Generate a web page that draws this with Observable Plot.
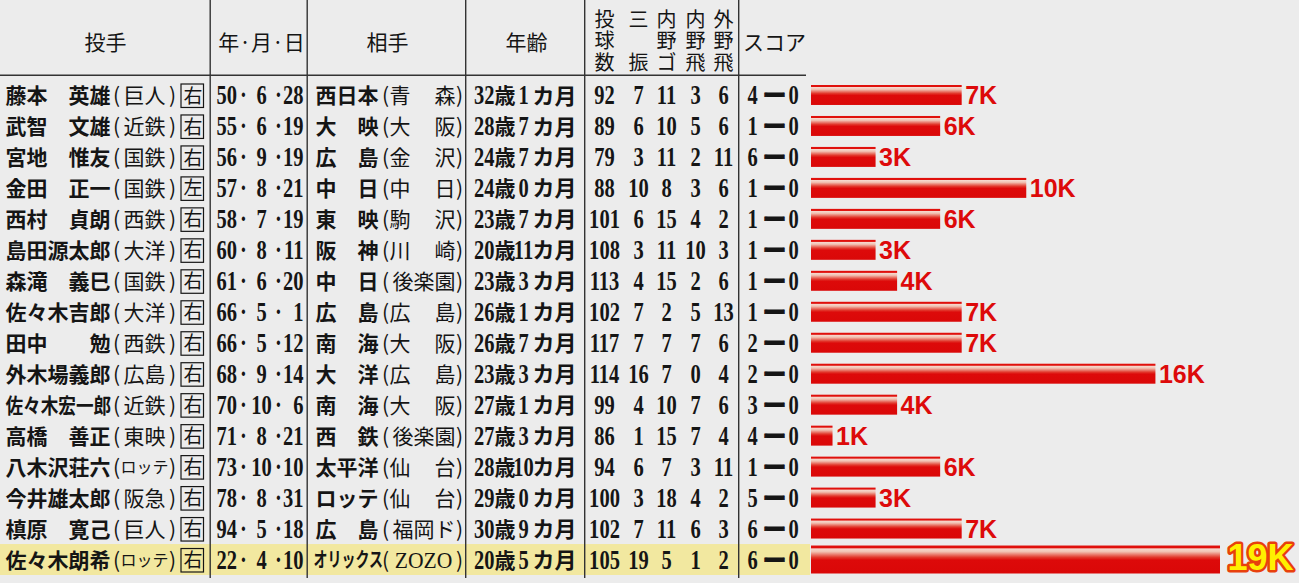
<!DOCTYPE html>
<html><head><meta charset="utf-8">
<script src="https://cdn.jsdelivr.net/npm/d3@7"></script>
<script src="https://cdn.jsdelivr.net/npm/@observablehq/plot@0.6"></script>
<style>
html,body{margin:0;padding:0;background:#ececec;overflow:hidden;}
</style></head><body><div id="chart"></div>
<script>
// ---- data ----
const families = ["藤本","武智","宮地","金田","西村","島田源太郎","森滝","佐々木吉郎","田中","外木場義郎","佐々木宏一郎","高橋","八木沢荘六","今井雄太郎","槙原","佐々木朗希"];
const givens = ["英雄","文雄","惟友","正一","貞朗","","義巳","","勉","","","善正","","","寛己",""];
const teams = ["巨人","近鉄","国鉄","国鉄","西鉄","大洋","国鉄","大洋","西鉄","広島","近鉄","東映","ロッテ","阪急","巨人","ロッテ"];
const hands = ["右","右","右","左","右","右","右","右","右","右","右","右","右","右","右","右"];
const years = ["50","55","56","57","58","60","61","66","66","68","70","71","73","78","94","22"];
const months = [6,6,9,8,7,8,6,5,5,9,10,8,10,8,5,4];
const days = [28,19,19,21,19,11,20,1,12,14,6,21,10,31,18,10];
const opponents = ["西日本","大映","広島","中日","東映","阪神","中日","広島","南海","大洋","南海","西鉄","太平洋","ロッテ","広島","オリックス"];
const venues = ["青森","大阪","金沢","中日","駒沢","川崎","後楽園","広島","大阪","広島","大阪","後楽園","仙台","仙台","福岡ド","ZOZO"];
const ageYears = [32,28,24,24,23,20,23,26,26,23,27,27,28,29,30,20];
const ageMonths = [1,7,7,0,7,11,3,1,7,3,1,3,10,0,9,5];
const pitches = [92,89,79,88,101,108,113,102,117,114,99,86,94,100,102,105];
const strikeouts = [7,6,3,10,6,3,4,7,7,16,4,1,6,3,7,19];
const groundOuts = [11,10,11,8,15,11,15,2,7,7,10,15,7,18,11,5];
const infieldFlies = [3,5,2,3,4,10,2,5,7,0,7,7,3,4,6,1];
const outfieldFlies = [6,6,11,6,2,3,6,13,6,4,6,4,11,2,3,2];
const runsFor = [4,1,6,1,1,1,1,1,2,2,3,4,1,5,6,6];
const runsAgainst = [0,0,0,0,0,0,0,0,0,0,0,0,0,0,0,0];
const headerLabels = ["投手","年·月·日","相手","年齢","スコア"];
const statHeaders = ["投球数","三振","内野ゴ","内野飛","外野飛"];
const highlightRow = 15;

const rows = families.map((f, i) => ({
  i, fam: f, giv: givens[i], team: teams[i], hand: hands[i],
  yy: years[i], mm: months[i], dd: days[i],
  opp: opponents[i], venue: venues[i],
  ay: ageYears[i], am: ageMonths[i],
  stats: [pitches[i], strikeouts[i], groundOuts[i], infieldFlies[i], outfieldFlies[i]],
  rf: runsFor[i], ra: runsAgainst[i], k: strikeouts[i]
}));

// ---- layout / style ----
const W = 1299, H = 583;
const BG = "#ececec", INK = "#151515", LINE = "#333", RED = "#dd0a0a";
const CJK = "'Noto Sans CJK JP', sans-serif";
const NUM = "'Liberation Serif', 'Noto Sans CJK JP', serif";
const SEPS = [209.5, 306.5, 465, 584, 738];
const HEAD_X = [105, 261, 387, 526, 774];
const STAT_X = [604, 638, 666, 695, 723];

const cjk = (text, dx, o = {}) => Plot.text(rows, {y: "i", text, frameAnchor: "left", dx, dy: 1, textAnchor: "start",
  lineAnchor: "middle", fill: INK, fontFamily: CJK, fontWeight: "bold", fontSize: 21, ...o});
const num = (text, dx, o = {}) => Plot.text(rows, {y: "i", text, frameAnchor: "left", dx, dy: 0, textAnchor: "middle",
  lineAnchor: "middle", fill: INK, fontFamily: NUM, fontWeight: "bold", fontSize: 27, className: "sx76", ...o});

const normal = rows.filter(d => d.i !== highlightRow);
const hi = rows.filter(d => d.i === highlightRow);

const marks = [
  // highlight row
  Plot.cell([highlightRow], {x: null, y: d => d, insetRight: W - 810, fill: "#f2e8a0"}),
  // column separators & header rule
  ...SEPS.map(sx => Plot.cell([0], {x: null, y: null, insetLeft: sx, insetRight: W - sx - 1.4, insetBottom: 5, fill: LINE})),
  Plot.cell([0], {x: null, y: null, insetTop: 74.5, insetBottom: H - 76, insetRight: W - 806, fill: LINE}),
  // header labels
  ...headerLabels.map((h, j) => Plot.text([h], {text: d => d, frameAnchor: "top-left", dx: HEAD_X[j], dy: 43,
    textAnchor: "middle", lineAnchor: "middle",
    fill: INK, fontFamily: CJK, fontWeight: 400, fontSize: 21})),
  ...statHeaders.map((h, j) => Plot.text([h], {
    text: d => d.length === 2 ? d[0] + "\n\u3000\n" + d[1] : d.split("").join("\n"),
    frameAnchor: "top-left", dx: STAT_X[j], dy: 41, lineHeight: 1.08,
    textAnchor: "middle", lineAnchor: "middle",
    fill: INK, fontFamily: CJK, fontWeight: 400, fontSize: 20})),
  // pitcher
  cjk(d => (d.giv || d.fam.length <= 5) ? d.fam : "", 5),
  cjk(d => (!d.giv && d.fam.length > 5) ? d.fam : "", 5, {className: "sx83"}),
  cjk(d => d.giv, 110, {textAnchor: "end"}),
  cjk(() => "(", 116, {textAnchor: "middle", fontWeight: 400}),
  cjk(() => ")", 172, {textAnchor: "middle", fontWeight: 400}),
  cjk(d => d.team, 144, {textAnchor: "middle", fontWeight: 400, fontSize: d => d.team.length > 2 ? 16 : 21}),
  Plot.cell(rows, {x: null, y: "i", insetLeft: 181, insetRight: W - 203.5, insetTop: 4.5, insetBottom: 3,
    fill: "none", stroke: INK, strokeWidth: 1.2}),
  cjk(d => d.hand, 192.5, {textAnchor: "middle", fontWeight: 400, fontSize: 19}),
  // date
  num(d => d.yy, 216, {textAnchor: "start"}),
  num(() => "·", 243),
  num(d => d.mm, 261),
  num(() => "·", 278),
  num(d => d.dd, 303, {textAnchor: "end"}),
  // opponent (venue)
  cjk(d => d.opp.length === 2 ? d.opp[0] : d.opp.length === 3 ? d.opp : "", 315),
  cjk(d => d.opp.length === 2 ? d.opp[1] : "", 378, {textAnchor: "end"}),
  cjk(d => d.opp.length > 3 ? d.opp : "", 313, {fontSize: 20, className: "sx69"}),
  cjk(() => "(", 385, {textAnchor: "middle", fontWeight: 400}),
  cjk(() => ")", 459, {textAnchor: "middle", fontWeight: 400}),
  cjk(d => d.venue.length === 2 && !/[A-Z]/.test(d.venue) ? d.venue[0] : "", 389, {fontWeight: 400}),
  cjk(d => d.venue.length === 2 ? d.venue[1] : d.venue.length === 3 ? d.venue : "", 455,
    {textAnchor: "end", fontWeight: 400}),
  num(d => /[A-Z]/.test(d.venue) ? d.venue : "", 423, {fontWeight: 400, fontSize: 24, className: "sx90"}),
  // age
  num(d => d.ay, 494, {textAnchor: "end"}),
  cjk(() => "歳", 494),
  num(d => d.am, 523),
  cjk(() => "カ月", 532, {fontSize: 22}),
  // stats
  ...STAT_X.map((sx, j) => num(d => d.stats[j], sx)),
  // score
  num(d => d.rf, 752),
  cjk(() => "ー", 774, {textAnchor: "middle", fontSize: 24, stroke: INK, strokeWidth: 0.8}),
  num(d => d.ra, 793),
  // bars
  Plot.barX(normal, {x: "k", y: "i", fill: "url(#redbar)", insetTop: 5.5, insetBottom: 5.5}),
  Plot.barX(hi, {x: "k", y: "i", fill: "url(#redbar)", insetTop: 1.5, insetBottom: 1.5}),
  Plot.text(normal, {x: "k", y: "i", text: d => `${d.k}K`, dx: 3, dy: 1, textAnchor: "start", fill: RED,
    fontFamily: "'Liberation Sans', Arial, sans-serif", fontWeight: "bold", fontSize: 25}),
  Plot.text(hi, {x: "k", y: "i", text: d => `${d.k}K`, dx: 7, dy: -2, textAnchor: "start", fill: "#fff000",
    stroke: "#e8400c", strokeWidth: 5, paintOrder: "stroke", strokeLinejoin: "round",
    fontFamily: "'Liberation Sans', Arial, sans-serif", fontWeight: "bold", fontSize: 36})
];

const svg = Plot.plot({
  width: W, height: H, margin: 0,
  style: {background: BG, overflow: "visible"},
  x: {domain: [0, 19], range: [811, 1220], axis: null},
  y: {type: "band", domain: d3.range(rows.length), range: [79.5, 575], padding: 0, round: false, axis: null},
  marks
});

// gradient for the bars
const defs = d3.select(svg).insert("defs", ":first-child");
const grad = defs.append("linearGradient").attr("id", "redbar").attr("x1", 0).attr("y1", 0).attr("x2", 0).attr("y2", 1);
[[0, "#e0100c"], [0.08, "#e0100c"], [0.12, "#f6d8ce"], [0.22, "#f1c2b3"], [0.42, "#e2392d"], [0.52, "#dd0a0a"], [1, "#da0808"]]
  .forEach(([o, c]) => grad.append("stop").attr("offset", o).attr("stop-color", c));

// condense serif numerals / long names horizontally
const squeeze = (cls, f) => svg.querySelectorAll(`.${cls} text`).forEach(t => {
  const tr = t.getAttribute("transform");
  if (tr) t.setAttribute("transform", tr + ` scale(${f},1)`);
});
squeeze("sx76", 0.76); squeeze("sx83", 0.84); squeeze("sx69", 0.7); squeeze("sx90", 0.9);

document.getElementById("chart").appendChild(svg);
</script>
</body></html>
